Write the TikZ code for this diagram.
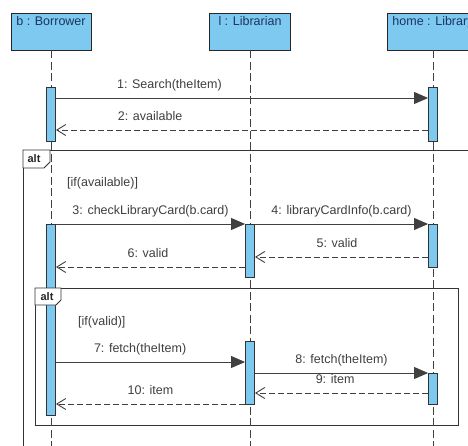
\documentclass[tikz,border=0pt]{standalone}
\usepackage{fontspec}
\setmainfont{Liberation Sans}
\usepackage{tikz}
\usetikzlibrary{arrows.meta}
\definecolor{lifeblue}{RGB}{125,201,240}
\definecolor{headtext}{RGB}{28,52,96}
\definecolor{msgtext}{RGB}{62,62,62}
\def\txtfont{\fontsize{12.5}{14}\selectfont}
\tikzset{
	head/.style={draw=black!85, fill=lifeblue, minimum height=37pt, line width=0.9pt},
	headtxt/.style={text=headtext, inner sep=4pt, anchor=north, font=\txtfont},
	life/.style={draw=black!75, line width=0.9pt, dash pattern=on 8pt off 3.5pt},
	act/.style={draw=black!80, fill=lifeblue, minimum width=9pt, anchor=north, inner sep=0pt, line width=0.9pt},
	call/.style={draw=black!75, line width=0.9pt, -{Triangle[length=14pt,width=12pt]}},
	reply/.style={draw=black!75, line width=0.9pt, dash pattern=on 6pt off 3pt, -{Straight Barb[length=9pt,width=11pt]}},
	lbl/.style={above=6pt, inner sep=0pt, text height=9pt, text depth=3pt, text=msgtext, font=\txtfont},
	frame/.style={draw=black!80, line width=0.9pt},
	tab/.style={frame, fill=white},
	tag/.style={inner sep=0pt, font=\fontsize{11}{12}\selectfont\bfseries, text=black!85},
	guard/.style={anchor=west, inner sep=0pt, text=msgtext, font=\txtfont}
}

\begin{document}
\begin{tikzpicture}[x=1pt, y=-1pt]
		%%%%% START %%%%%
		\useasboundingbox (0,0) rectangle (468,446);
		\clip (0,0) rectangle (468,446);
		
		% combined fragments
		\draw[frame] (23,150) rectangle (480,460);
		\node[guard] (g1) at (67,183) {[if(available)]};
		\draw[frame] (35,288) rectangle (458,425);
		\node[guard] (g2) at (78,322) {[if(valid)]};
		
		% lifelines
		\node[head, minimum width=80pt] (hB) at (51,31.5) {};
		\node[head, minimum width=81pt] (hL) at (250,31.5) {};
		\node[head, minimum width=92pt] (hH) at (433,31.5) {};
		\node[headtxt] (tB) at (hB.north) {b : Borrower};
		\node[headtxt] (tL) at (hL.north) {l : Librarian};
		\node[headtxt] (tH) at (hH.north) {home : Library};
		
		\coordinate (bot) at (0,450);
		\draw[life] (hB.south) -- (hB.south |- bot);
		\draw[life] (hL.south) -- (hL.south |- bot);
		\draw[life] (hH.south) -- (hH.south |- bot);
		
		% activations
		\node[act, minimum height=54pt] (aB1) at (51,87) {};
		\node[act, minimum height=54pt] (aH1) at (433,87) {};
		\node[act, minimum height=191pt] (aB2) at (51,224) {};
		\node[act, minimum height=53pt] (aL1) at (250,224) {};
		\node[act, minimum height=43pt] (aH2) at (433,224) {};
		\node[act, minimum height=63pt] (aL2) at (250,341) {};
		\node[act, minimum height=31pt] (aH3) at (433,373) {};
		
		% tabs on top
		\draw[tab] (23,150) -- (23,168) -- (44,168) -- (50,162) -- (50,150) -- cycle;
		\node[tag] (alt1) at (34,159) {alt};
		\draw[tab] (35,288) -- (35,305) -- (56,305) -- (61,300) -- (61,288) -- cycle;
		\node[tag] (alt2) at (47,297) {alt};
		
		% messages
		\coordinate (m1) at (0,98);
		\coordinate (m2) at (0,130);
		\coordinate (m3) at (0,224);
		\coordinate (m5) at (0,257);
		\coordinate (m6) at (0,267);
		\coordinate (m7) at (0,362);
		\coordinate (m8) at (0,373);
		\coordinate (m9) at (0,393);
		\coordinate (m10) at (0,404);
		
		\draw[call] (aB1.east |- m1) -- (aH1.west |- m1) node[lbl, pos=.305] {1: Search(theItem)};
		\draw[reply] (aH1.west |- m2) -- (aB1.east |- m2) node[lbl, pos=.747] {2: available};
		
		\draw[call] (aB2.east |- m3) -- (aL1.west |- m3) node[lbl, pos=.5] {3: checkLibraryCard(b.card)};
		\draw[call] (aL1.east |- m3) -- (aH2.west |- m3) node[lbl, pos=.5] {4: libraryCardInfo(b.card)};
		\draw[reply] (aH2.west |- m5) -- (aL1.east |- m5) node[lbl, pos=.526] {5: valid};
		\draw[reply] (aL1.west |- m6) -- (aB2.east |- m6) node[lbl, pos=.513] {6: valid};
		
		\draw[call] (aB2.east |- m7) -- (aL2.west |- m7) node[lbl, pos=.445] {7: fetch(theItem)};
		\draw[call] (aL2.east |- m8) -- (aH3.west |- m8) node[lbl, pos=.5] {8: fetch(theItem)};
		\draw[reply] (aH3.west |- m9) -- (aL2.east |- m9) node[lbl, pos=.537] {9: item};
		\draw[reply] (aL2.west |- m10) -- (aB2.east |- m10) node[lbl, pos=.5] {10: item};
		
		%%%%% END %%%%%
	\end{tikzpicture}
\end{document}
